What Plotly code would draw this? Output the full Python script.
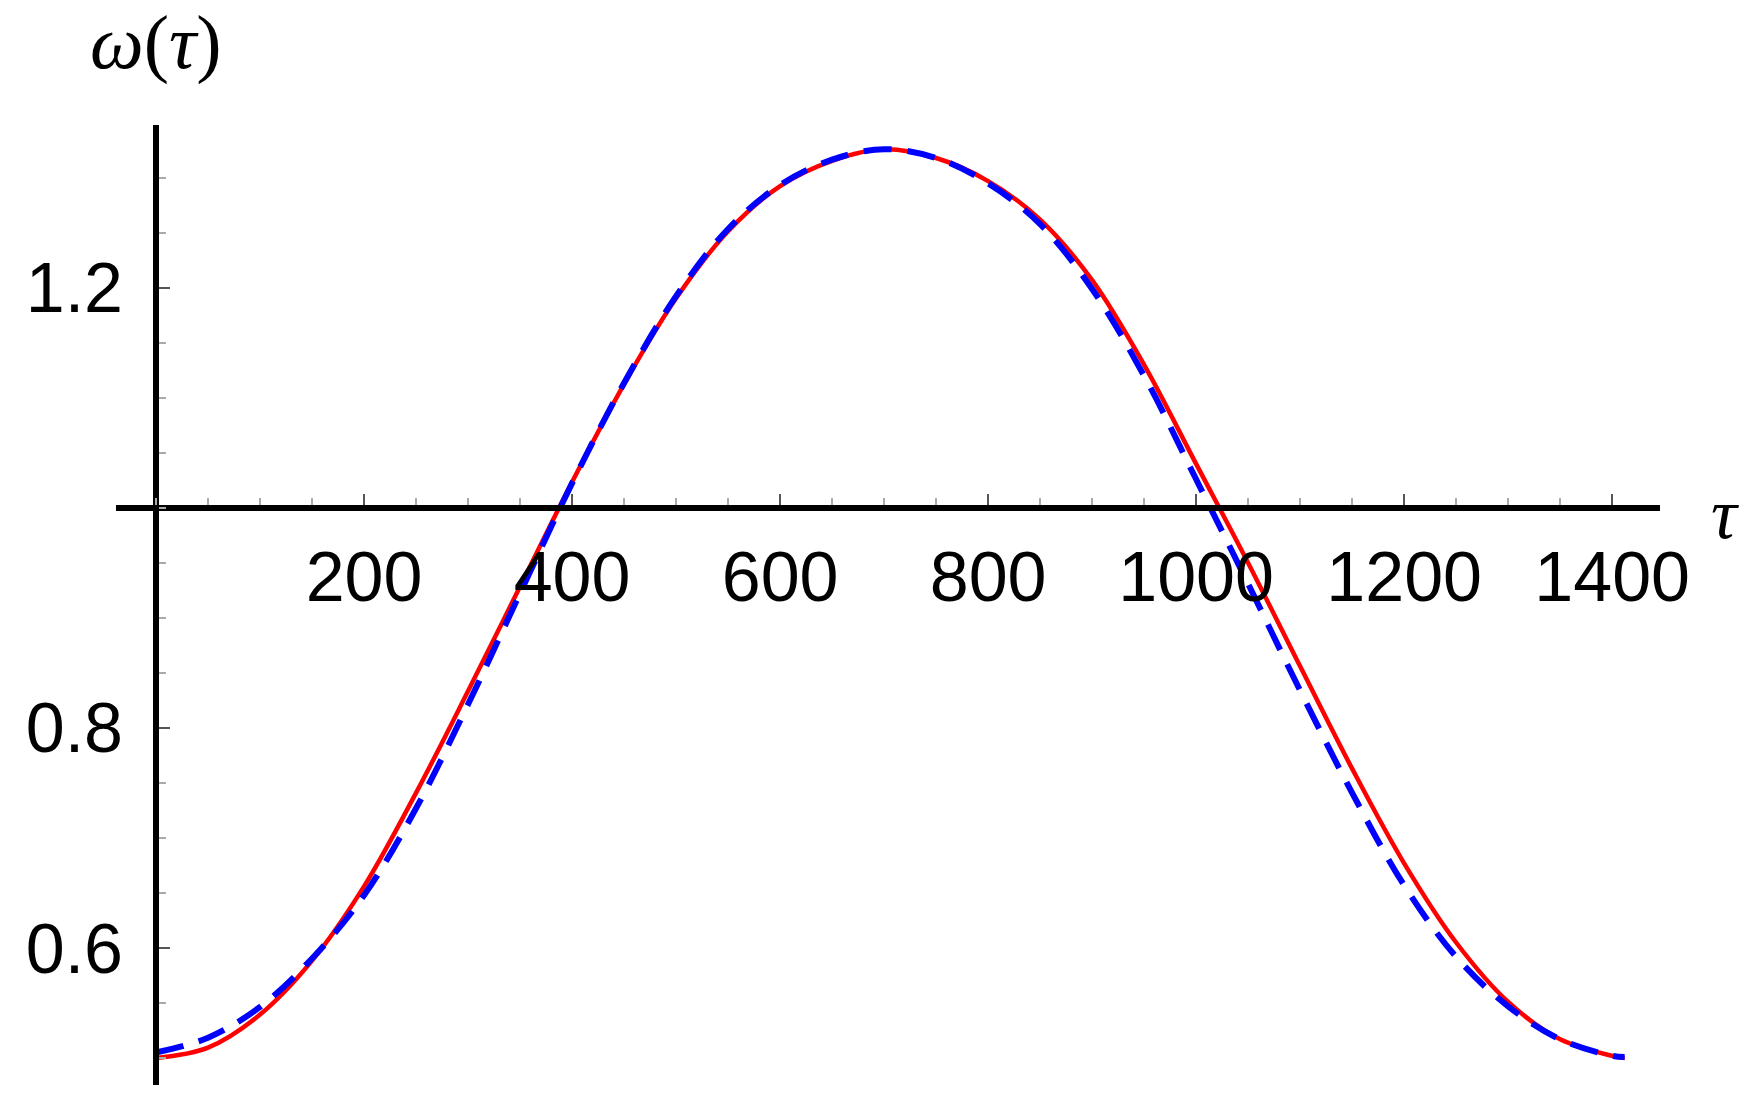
import plotly.graph_objects as go

# ---- data ----
tau = [0, 50, 100, 150, 200, 250, 300, 350, 400, 450, 500, 550, 600, 650, 700,
       750, 800, 850, 900, 950, 1000, 1050, 1100, 1150, 1200, 1250, 1300, 1350, 1400, 1412]

omega_red = [0.500, 0.5095, 0.5395, 0.5885, 0.656, 0.741, 0.8335, 0.9285, 1.0235, 1.1125,
             1.1905, 1.2515, 1.2925, 1.3155, 1.326, 1.318, 1.297, 1.262, 1.207, 1.130,
             1.040, 0.950, 0.856, 0.763, 0.677, 0.605, 0.551, 0.517, 0.502, 0.500]

omega_blue = [0.505, 0.5185, 0.5465, 0.5905, 0.648, 0.727, 0.8215, 0.9225, 1.0225, 1.1135,
              1.1925, 1.2535, 1.2935, 1.3165, 1.326, 1.318, 1.295, 1.258, 1.199, 1.120,
              1.026, 0.931, 0.834, 0.741, 0.657, 0.592, 0.547, 0.517, 0.502, 0.501]

x_tickvals = [200, 400, 600, 800, 1000, 1200, 1400]
x_ticktext = ["200", "400", "600", "800", "1000", "1200", "1400"]
y_tickvals = [0.6, 0.8, 1.2]
y_ticktext = ["0.6", "0.8", "1.2"]

x_range = [-38.5, 1446]
y_range = [0.4755, 1.348]
x_cross = 0.0      # y-axis drawn at tau = 0
y_cross = 1.0      # x-axis drawn at omega = 1

xpos = (y_cross - y_range[0]) / (y_range[1] - y_range[0])
ypos = (x_cross - x_range[0]) / (x_range[1] - x_range[0])

fig = go.Figure()
fig.add_trace(go.Scatter(x=tau, y=omega_red, mode="lines", line_shape="spline",
                         line=dict(color="#FF0000", width=4.5), hoverinfo="skip"))
fig.add_trace(go.Scatter(x=tau, y=omega_blue, mode="lines", line_shape="spline",
                         line=dict(color="#0000FF", width=6, dash="28px,16px"),
                         hoverinfo="skip"))

tickfont = dict(family="Liberation Sans, Arial, sans-serif", size=70, color="black")

fig.update_layout(
    width=1759, height=1106,
    margin=dict(l=116, r=99, t=125, b=21),
    paper_bgcolor="white", plot_bgcolor="white",
    showlegend=False,
    xaxis=dict(range=x_range, anchor="free", position=xpos,
               showline=True, linecolor="black", linewidth=6,
               showgrid=False, zeroline=False,
               tickmode="array", tickvals=x_tickvals, ticktext=x_ticktext,
               ticks="inside", ticklen=11, tickwidth=2, tickcolor="#555555",
               tickfont=tickfont, ticklabelstandoff=6,
               minor=dict(tick0=0, dtick=50, ticks="inside", ticklen=7,
                          tickwidth=1.5, tickcolor="#aaaaaa", showgrid=False)),
    yaxis=dict(range=y_range, anchor="free", position=ypos,
               showline=True, linecolor="black", linewidth=6,
               showgrid=False, zeroline=False,
               tickmode="array", tickvals=y_tickvals, ticktext=y_ticktext,
               ticks="inside", ticklen=11, tickwidth=2, tickcolor="#555555",
               tickfont=tickfont, ticklabelstandoff=16,
               minor=dict(tick0=0, dtick=0.05, ticks="inside", ticklen=7,
                          tickwidth=1.5, tickcolor="#aaaaaa", showgrid=False)),
    annotations=[
        dict(text="<i>ω</i>(<i>τ</i>)", xref="x", yref="paper", x=0, y=1.086,
             xanchor="center", yanchor="middle", showarrow=False,
             font=dict(family="Liberation Serif, Times New Roman, serif", size=76, color="black")),
        dict(text="<i>τ</i>", xref="paper", yref="paper", x=1.0418, y=0.595,
             xanchor="center", yanchor="middle", showarrow=False,
             font=dict(family="Liberation Serif, Times New Roman, serif", size=72, color="black")),
    ],
)

fig.write_html("out.html", config={"displayModeBar": False},
               post_script="document.body.style.margin='0px';")
